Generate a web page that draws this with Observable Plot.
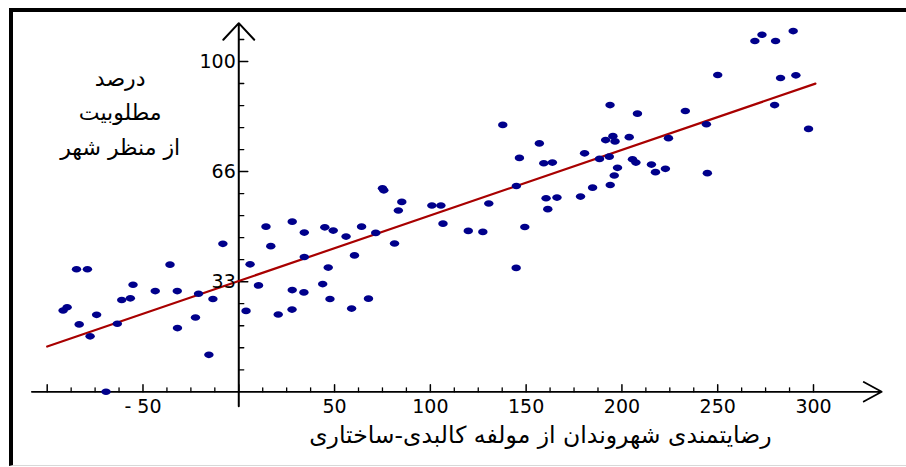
<!DOCTYPE html>
<html>
<head>
<meta charset="utf-8">
<script src="https://cdn.jsdelivr.net/npm/d3@7"></script>
<script src="https://cdn.jsdelivr.net/npm/@observablehq/plot@0.6"></script>
<style>
  html, body { margin: 0; padding: 0; background: #fff; }
  #wrap { position: relative; width: 906px; height: 467px; overflow: hidden; background: #fff; }
  #wrap svg { position: absolute; left: 0; top: 0; }
  #border { position: absolute; left: 9px; top: 8px; right: 0; bottom: 1px;
            border-top: 4px solid #000; border-left: 4px solid #000; border-bottom: 1px solid #d8d8d8;
            pointer-events: none; }
  g[aria-label="tick-labels"] text { letter-spacing: 3px; }
</style>
</head>
<body>
<div id="wrap"><div id="border"></div></div>
<script>
// ---- data ----
const pointsX = [-91.7,-89.6,-84.7,-79.0,-83.3,-77.6,-74.2,-69.3,-63.4,-61.1,-56.6,-55.2,-43.6,-35.9,-32.1,-32.0,-22.6,-21.0,-15.6,-13.5,-8.3,
  3.8,5.9,10.3,14.2,16.7,20.6,27.9,27.9,27.8,34.2,34.2,34.0,44.9,49.3,43.8,46.7,47.6,56.0,60.4,58.9,64.1,67.7,71.5,75.0,75.7,81.3,83.3,85.1,
  100.8,105.5,106.6,119.8,127.4,130.5,137.8,144.8,144.9,146.5,149.3,156.9,159.2,163.7,160.4,161.3,166.1,178.4,180.5,184.7,188.3,191.5,193.8,
  195.3,196.4,193.4,193.9,196.0,197.7,203.8,208.1,205.5,207.3,215.4,217.5,222.7,224.3,233.1,244.1,244.6,250.0,269.4,273.1,280.2,289.4,282.8,
  290.8,279.7,297.4];
const pointsY = [24.6,25.6,37.1,37.1,20.4,16.8,23.3,0.0,20.6,27.8,28.3,32.4,30.5,38.5,30.5,19.3,22.5,29.7,11.2,28.1,44.8,
  24.5,38.6,32.2,50.0,44.1,23.4,51.5,30.8,24.9,48.2,40.8,30.1,49.8,48.8,32.6,37.6,28.1,47.0,41.3,25.2,50.0,28.2,48.1,61.6,61.0,44.9,54.9,57.5,
  56.4,56.4,50.9,48.7,48.4,57.0,80.8,37.5,62.3,70.8,49.9,75.2,69.2,69.4,58.6,55.3,58.8,59.1,72.2,61.8,70.5,76.2,86.8,
  77.4,75.8,71.2,62.6,65.5,67.8,77.1,84.2,70.4,69.4,68.8,66.5,67.5,76.8,85.0,81.0,66.2,95.9,106.2,108.1,106.2,109.2,95.0,
  95.8,86.8,79.6];
const fitX = [-100, 301];
const fitY = [13.7, 93.3];
const xMajorTicks = [-100, -50, 0, 50, 100, 150, 200, 250, 300];
const xLabelValues = [-50, 50, 100, 150, 200, 250, 300];
const xLabelTexts = ["- 50", "50", "100", "150", "200", "250", "300"];
const yMajorTicks = [100 / 3, 200 / 3, 100];
const yLabelTexts = ["33", "66", "100"];
const xAxisExtent = [-108, 335.6];
const yAxisExtent = [-4.4, 111.6];
const xTitle = "رضایتمندی شهروندان از مولفه کالبدی-ساختاری";
const yTitle = "درصد\nمطلوبیت\nاز منظر شهر";

const xMinorTicks = d3.range(-100, 300.1, 12.5).filter(v => v % 50 !== 0);
const yMinorTicks = d3.range(1, 17).map(i => i * 100 / 15).filter((v, i) => (i + 1) % 5 !== 0);

const points = pointsX.map((x, i) => ({x, y: pointsY[i]}));
const fit = fitX.map((x, i) => ({x, y: fitY[i]}));

const ellipse = {
  draw(context, size) {
    const r = Math.sqrt(size / Math.PI);
    const rx = r * 1.35, ry = r * 0.95, k = 0.5523;
    context.moveTo(rx, 0);
    context.bezierCurveTo(rx, k * ry, k * rx, ry, 0, ry);
    context.bezierCurveTo(-k * rx, ry, -rx, k * ry, -rx, 0);
    context.bezierCurveTo(-rx, -k * ry, -k * rx, -ry, 0, -ry);
    context.bezierCurveTo(k * rx, -ry, rx, -k * ry, rx, 0);
    context.closePath();
  }
};
const tickShape = {
  draw(context, l) { context.moveTo(0, 0); context.lineTo(0, -l); }
};

const font = "DejaVu Sans, Verdana, sans-serif";

const chart = Plot.plot({
  width: 906,
  height: 467,
  marginLeft: 46.7,
  marginRight: 93,
  marginTop: 61,
  marginBottom: 75.7,
  style: {fontFamily: font, background: "transparent", overflow: "visible"},
  x: {domain: [-100, 300], axis: null},
  y: {domain: [0, 100], axis: null},
  marks: [
    // axes with arrowheads
    Plot.arrow([0], {x1: xAxisExtent[0], x2: xAxisExtent[1], y1: 0, y2: 0, stroke: "#000", strokeWidth: 1.8, headLength: 17, headAngle: 57}),
    Plot.arrow([0], {x1: 0, x2: 0, y1: yAxisExtent[0], y2: yAxisExtent[1], stroke: "#000", strokeWidth: 2, headLength: 17, headAngle: 86}),
    // ticks
    Plot.vector(xMajorTicks, {x: d => d, y: 0, length: 7, rotate: 0, anchor: "start", shape: tickShape, stroke: "#000", strokeWidth: 1.5, fill: "none"}),
    Plot.vector(xMinorTicks, {x: d => d, y: 0, length: 4, rotate: 0, anchor: "start", shape: tickShape, stroke: "#000", strokeWidth: 1.3, fill: "none"}),
    Plot.vector(yMajorTicks, {x: 0, y: d => d, length: 9, rotate: 90, anchor: "start", shape: tickShape, stroke: "#000", strokeWidth: 1.5, fill: "none"}),
    Plot.vector(yMinorTicks, {x: 0, y: d => d, length: 5, rotate: 90, anchor: "start", shape: tickShape, stroke: "#000", strokeWidth: 1.3, fill: "none"}),
    // regression line
    Plot.line(fit, {x: "x", y: "y", stroke: "#a80000", strokeWidth: 2.2}),
    // points
    Plot.dot(points, {x: "x", y: "y", r: 3.5, symbol: ellipse, fill: "#00008b", stroke: "none"}),
    // tick labels
    Plot.text(xLabelValues, {x: d => d, y: 0, text: (d, i) => xLabelTexts[i], dy: 15, fontSize: 19, fill: "#000", ariaLabel: "tick-labels"}),
    Plot.text(yMajorTicks, {x: 0, y: d => d, text: (d, i) => yLabelTexts[i], dx: -3, textAnchor: "end", fontSize: 19, fill: "#000", ariaLabel: "tick-labels"}),
    // titles
    Plot.text([xTitle], {frameAnchor: "bottom", dx: 110, dy: 51, fontSize: 23.5, fill: "#000", text: d => d}),
    Plot.text([yTitle], {frameAnchor: "top-left", textAnchor: "middle", lineAnchor: "middle", dx: 73, dy: 48, fontSize: 22, lineHeight: 1.55, fill: "#000", text: d => d})
  ]
});
document.getElementById("wrap").insertBefore(chart, document.getElementById("border"));
</script>
</body>
</html>
